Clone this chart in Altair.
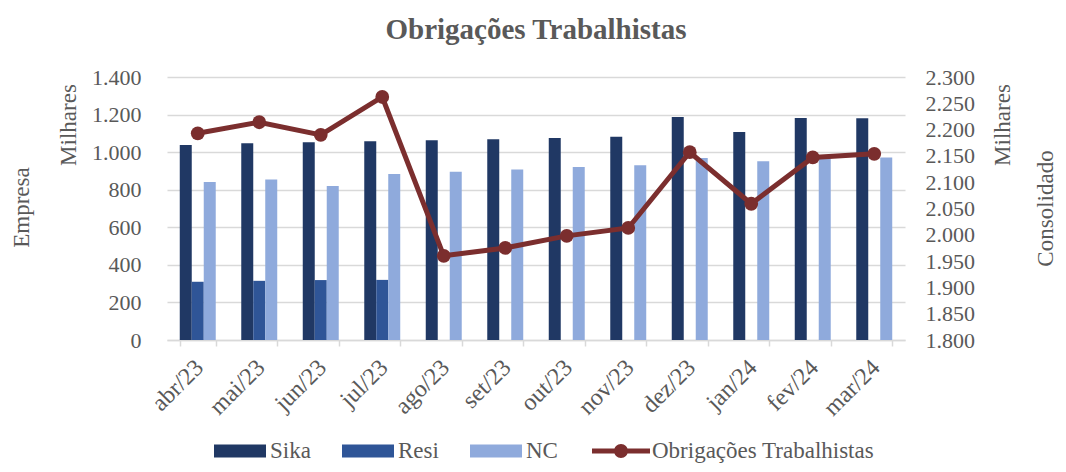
import altair as alt
import pandas as pd

months = ["abr/23", "mai/23", "jun/23", "jul/23", "ago/23", "set/23",
          "out/23", "nov/23", "dez/23", "jan/24", "fev/24", "mar/24"]
sika = [1038, 1047, 1052, 1058, 1063, 1068, 1075, 1082, 1187, 1107, 1182, 1180]
resi = [310, 315, 319, 320, None, None, None, None, None, None, None, None]
nc = [841, 855, 820, 884, 896, 907, 921, 930, 969, 951, 965, 972]
obrigacoes = [2193, 2214, 2190, 2262, 1960, 1975, 1998, 2013, 2157, 2059, 2147, 2154]

series_names = ["Sika", "Resi", "NC"]
series_colors = ["#203864", "#2F5597", "#8FAADC"]
line_name = "Obrigações Trabalhistas"
line_color = "#7B2E2E"
left_ticks = [0, 200, 400, 600, 800, 1000, 1200, 1400]
right_ticks = [1800, 1850, 1900, 1950, 2000, 2050, 2100, 2150, 2200, 2250, 2300]
units_label = "Milhares"

rows = []
for i, m in enumerate(months):
    for name, vals in zip(series_names, [sika, resi, nc]):
        if vals[i] is not None:
            rows.append({"mes": m, "serie": name, "valor": vals[i]})
bars_df = pd.DataFrame(rows)
line_df = pd.DataFrame({"mes": months, "serie": line_name, "valor": obrigacoes})

FONT = "Liberation Serif"
GRAY = "#595959"
GRID = "#D9D9D9"
LBL = "replace(format(datum.value, ',.0f'), ',', '.')"

x_enc = alt.X(
    "mes:N", sort=months,
    scale=alt.Scale(paddingInner=0.415, paddingOuter=0.2075),
    axis=alt.Axis(title=None, labelAngle=-45, labelFont=FONT, labelFontSize=24,
                  labelColor=GRAY, tickBand="extent", tickSize=6, tickColor=GRID,
                  tickWidth=1.5, domainColor=GRID, domainWidth=1.5, labelPadding=9,
                  labelOffset=-7, grid=False),
)

bars = alt.Chart(bars_df).mark_bar().encode(
    x=x_enc,
    xOffset=alt.XOffset("serie:N", sort=series_names,
                        scale=alt.Scale(domain=series_names, paddingInner=0, paddingOuter=0)),
    y=alt.Y("valor:Q",
            scale=alt.Scale(domain=[0, 1400], nice=False),
            axis=alt.Axis(values=left_ticks, labelExpr=LBL, labelFont=FONT,
                          labelFontSize=22, labelColor=GRAY, ticks=False, tickSize=0,
                          labelPadding=26, domain=False, grid=True, gridColor=GRID,
                          gridWidth=1.5, title="Empresa", titleFont=FONT,
                          titleFontSize=23, titleFontWeight="normal", titleColor=GRAY,
                          titleAngle=270, titleX=-146, titleY=130, titleAlign="center",
                          titleBaseline="middle")),
    color=alt.Color("serie:N", sort=series_names,
                    scale=alt.Scale(domain=series_names, range=series_colors),
                    legend=alt.Legend(title=None, orient="none", legendX=47, legendY=348,
                                      direction="horizontal",
                                      symbolType="M-1,-0.25L1,-0.25L1,0.25L-1,0.25Z",
                                      symbolSize=2704, symbolStrokeWidth=0,
                                      labelFont=FONT, labelFontSize=23, labelColor=GRAY,
                                      labelOffset=4, columnPadding=31, padding=0,
                                      labelLimit=300)),
)

y_right = alt.Y(
    "valor:Q",
    scale=alt.Scale(domain=[1800, 2300], nice=False, zero=False),
    axis=alt.Axis(orient="right", values=right_ticks, labelExpr=LBL, labelFont=FONT,
                  labelFontSize=22, labelColor=GRAY, ticks=False, tickSize=0,
                  labelPadding=20, domain=False, grid=False, title="Consolidado",
                  titleFont=FONT, titleFontSize=23, titleFontWeight="normal",
                  titleColor=GRAY, titleAngle=270, titleX=140, titleY=131,
                  titleAlign="center", titleBaseline="middle"),
)

line = alt.Chart(line_df).mark_line(color=line_color, strokeWidth=5).encode(
    x=x_enc, y=y_right
)
pts = alt.Chart(line_df).mark_circle(size=190, opacity=1).encode(
    x=x_enc, y=y_right,
    color=alt.Color("serie:N",
                    scale=alt.Scale(domain=[line_name], range=[line_color]),
                    legend=alt.Legend(title=None, orient="none", legendX=425, legendY=345,
                                      symbolType=("M-1,-0.086L1,-0.086L1,0.086L-1,0.086Z"
                                                  "M-0.24,0A0.24,0.24 0 1,1 0.24,0"
                                                  "A0.24,0.24 0 1,1 -0.24,0Z"),
                                      symbolSize=3364, symbolStrokeWidth=0,
                                      labelFont=FONT, labelFontSize=23, labelColor=GRAY,
                                      labelOffset=2, padding=0, labelLimit=400)),
)

units_df = pd.DataFrame({"t": [units_label]})
units_left = alt.Chart(units_df).mark_text(
    font=FONT, fontSize=23, color=GRAY, angle=270, align="center", baseline="middle"
).encode(text="t:N", x=alt.value(-98), y=alt.value(48))
units_right = alt.Chart(units_df).mark_text(
    font=FONT, fontSize=23, color=GRAY, angle=270, align="center", baseline="middle"
).encode(text="t:N", x=alt.value(836), y=alt.value(48))

chart = alt.layer(
    bars, alt.layer(line, pts), units_left, units_right
).resolve_scale(
    y="independent", color="independent"
).resolve_legend(
    color="independent"
).properties(
    width=738, height=263,
    title=alt.TitleParams(line_name, font=FONT, fontSize=29, fontWeight="bold",
                          color=GRAY, anchor="middle", offset=21),
    autosize=alt.AutoSizeParams(type="none"),
    padding={"left": 159, "top": 69, "right": 153, "bottom": 124},
).configure_view(stroke=None)

chart.save("out.html", embed_options={"renderer": "svg", "actions": False})
